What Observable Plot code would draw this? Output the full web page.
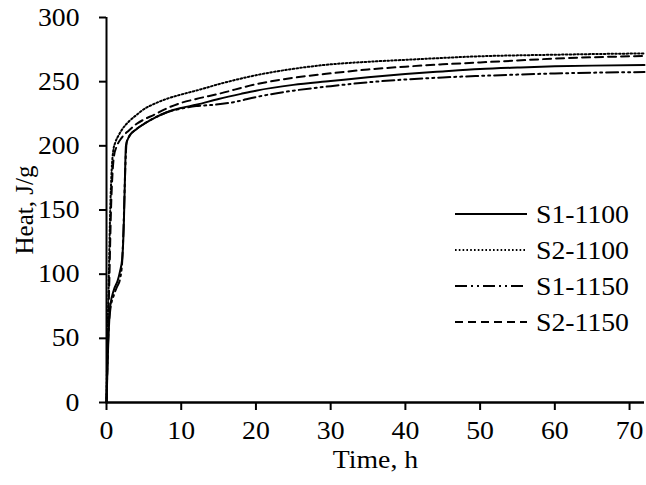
<!DOCTYPE html>
<html><head><meta charset="utf-8">
<script src="https://cdn.jsdelivr.net/npm/d3@7"></script>
<script src="https://cdn.jsdelivr.net/npm/@observablehq/plot@0.6"></script>
<style>
body{margin:0;background:#fff;}
#wrap{position:relative;width:646px;height:485px;overflow:hidden;}
#wrap svg{display:block;}
#legend{position:absolute;left:0;top:0;}
</style></head><body><div id="wrap"></div>
<script>
const seriesNames = ["S1-1100", "S2-1100", "S1-1150", "S2-1150"];

const t_S1_1100 = [0, 0.2, 0.5, 1, 1.5, 1.8, 2.1, 2.3, 2.45, 2.6, 3, 4, 5, 6.5, 8, 10, 12, 15, 18, 20, 25, 30, 35, 40, 45, 50, 55, 60, 65, 72];
const q_S1_1100 = [0, 40, 75, 88, 95, 102, 112, 135, 170, 200, 207, 213, 217, 222, 226, 229.5, 232, 236.5, 240.5, 243, 247.5, 250.5, 253.5, 256, 258, 259.8, 261, 262, 262.5, 263];

const t_S2_1100 = [0, 0.1, 0.3, 0.5, 0.7, 0.9, 1.2, 1.6, 2, 3, 4, 5, 6.5, 8, 10, 12, 15, 20, 25, 30, 35, 40, 45, 50, 55, 60, 65, 72];
const q_S2_1100 = [0, 40, 95, 150, 182, 196, 203, 208, 212, 219, 224, 228.5, 233, 236.5, 240, 243, 248, 255, 260, 263.5, 265.5, 267, 268.5, 269.8, 270.5, 271, 271.5, 272];

const t_S1_1150 = [0, 0.2, 0.5, 1, 1.4, 1.8, 2.1, 2.3, 2.5, 2.7, 3, 4, 5, 6.5, 8, 10, 12, 14, 17, 20, 25, 30, 35, 40, 45, 50, 55, 60, 65, 72];
const q_S1_1150 = [0, 45, 72, 84, 90, 96, 110, 140, 180, 203, 207, 213, 217, 222, 226, 229, 231, 231.8, 234, 238, 243, 246.5, 249.5, 251.7, 253.3, 254.5, 255.5, 256.4, 257, 257.5];

const t_S2_1150 = [0, 0.15, 0.4, 0.6, 0.8, 1, 1.4, 2, 3, 4, 5, 6.3, 8, 10, 12, 15, 20, 25, 30, 35, 40, 45, 50, 55, 60, 65, 72];
const q_S2_1150 = [0, 40, 100, 150, 178, 192, 200, 206, 212, 217, 220.5, 224, 229, 233.5, 236.5, 240.5, 248, 253, 256.5, 259.5, 261.7, 263.5, 265, 266.5, 268, 269, 270];

const xTicks = [0, 10, 20, 30, 40, 50, 60, 70];
const yTicks = [0, 50, 100, 150, 200, 250, 300];

const seriesData = {
  "S1-1100": [t_S1_1100, q_S1_1100],
  "S2-1100": [t_S2_1100, q_S2_1100],
  "S1-1150": [t_S1_1150, q_S1_1150],
  "S2-1150": [t_S2_1150, q_S2_1150]
};
const dashOf = {
  "S1-1100": null,
  "S2-1100": "1.6,2.2",
  "S1-1150": "12,4,2,4,2,4",
  "S2-1150": "8,5"
};

const rows = [];
for (const s of seriesNames) {
  const [t, q] = seriesData[s];
  t.forEach((v, i) => rows.push({series: s, t: v, q: q[i]}));
}

const FONT = "'Liberation Serif', 'Times New Roman', serif";

const chart = Plot.plot({
  width: 646,
  height: 485,
  marginLeft: 106,
  marginRight: 2,
  marginTop: 17,
  marginBottom: 83,
  style: {fontFamily: FONT, fontSize: "25px", color: "#000", background: "#fff", overflow: "visible"},
  x: {domain: [0, 72]},
  y: {domain: [0, 300]},
  marks: [
    Plot.axisX({ticks: xTicks, tickSize: 8, tickPadding: 11, strokeWidth: 2, fontSize: 25,
      label: "Time, h", labelAnchor: "center", labelArrow: "none", labelOffset: 65}),
    Plot.axisY({ticks: yTicks, tickSize: 7, tickPadding: 20, strokeWidth: 2, fontSize: 25,
      label: "Heat, J/g", labelAnchor: "center", labelArrow: "none", labelOffset: 91}),
    ...seriesNames.map(s => Plot.line(rows.filter(d => d.series === s), {
      x: "t", y: "q", stroke: "#000", strokeWidth: 2,
      strokeDasharray: dashOf[s], curve: "monotone-x"
    })),
    Plot.ruleX([0], {stroke: "#000", strokeWidth: 2}),
    Plot.ruleY([0], {stroke: "#000", strokeWidth: 2.3})
  ]
});

const wrap = document.getElementById("wrap");
wrap.appendChild(chart);

// horizontal widening of non-rotated labels, as in the reference
chart.querySelectorAll('g[aria-label="x-axis tick label"] text, g[aria-label="y-axis tick label"] text, g[aria-label="x-axis label"] text').forEach(el => {
  const len = el.getComputedTextLength();
  if (len > 0) {
    el.setAttribute("textLength", (len * 1.11).toFixed(1));
    el.setAttribute("lengthAdjust", "spacingAndGlyphs");
  }
});

// legend
const leg = d3.select(wrap).append("svg").attr("id", "legend")
  .attr("width", 646).attr("height", 485);
seriesNames.forEach((s, i) => {
  const y = 214 + i * 36;
  leg.append("line").attr("x1", 455).attr("x2", 527).attr("y1", y).attr("y2", y)
    .attr("stroke", "#000").attr("stroke-width", 2)
    .attr("stroke-dasharray", dashOf[s]);
  const tx = leg.append("text").attr("x", 536).attr("y", y).attr("dy", "0.35em")
    .attr("font-family", FONT).attr("font-size", 25).attr("fill", "#000").text(s);
  tx.attr("textLength", 93).attr("lengthAdjust", "spacingAndGlyphs");
});
</script>
</body></html>
